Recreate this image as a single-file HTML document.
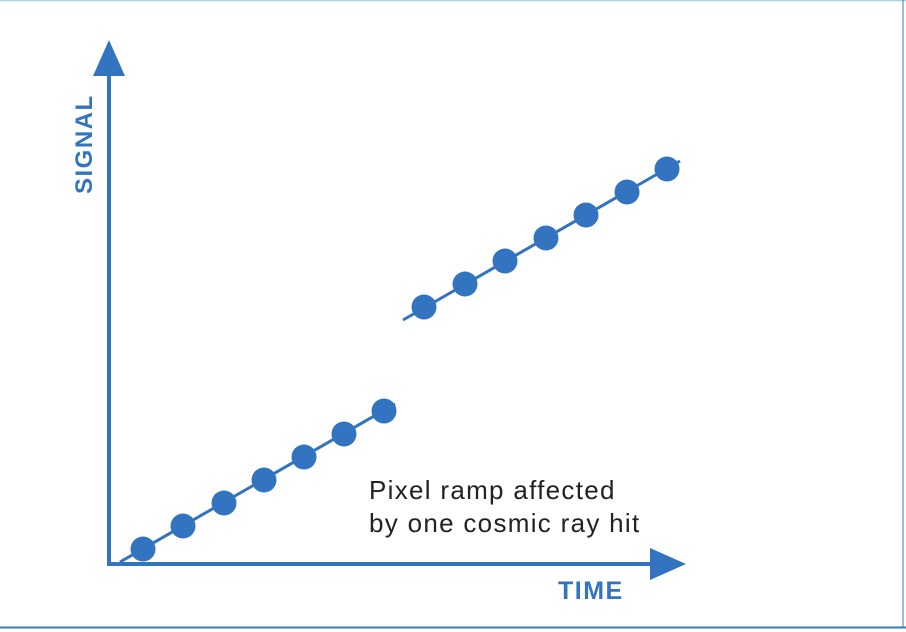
<!DOCTYPE html>
<html><head><style>
html,body{margin:0;padding:0;background:#fff;}
svg{display:block;}
</style></head><body>
<svg width="906" height="632" viewBox="0 0 906 632" xmlns="http://www.w3.org/2000/svg">
<rect x="0" y="0" width="906" height="632" fill="#fff"/>
<line x1="0" y1="0.5" x2="906" y2="0.5" stroke="#a9d0e8" stroke-width="1.5"/>
<line x1="903" y1="0" x2="903" y2="628" stroke="#3a7ab8" stroke-width="1"/>
<line x1="0" y1="627.5" x2="906" y2="627.5" stroke="#3a7ab8" stroke-width="2"/>
<g fill="#3274bf" stroke="#3274bf">
<line x1="109" y1="566" x2="109" y2="70" stroke-width="4"/>
<polygon points="109,40 93,76 125,76" stroke="none"/>
<line x1="107" y1="564" x2="660" y2="564" stroke-width="4"/>
<polygon points="686,564 650,548 650,580" stroke="none"/>
<line x1="120" y1="562" x2="395" y2="404" stroke-width="3"/>
<line x1="403" y1="320" x2="680" y2="161" stroke-width="3"/>
<g stroke="none">
<circle cx="143" cy="549" r="12.5"/><circle cx="183" cy="526" r="12.5"/><circle cx="224" cy="503" r="12.5"/><circle cx="264" cy="480" r="12.5"/><circle cx="304" cy="457" r="12.5"/><circle cx="344" cy="434" r="12.5"/><circle cx="384" cy="411" r="12.5"/>
<circle cx="424" cy="307" r="12.5"/><circle cx="465" cy="284" r="12.5"/><circle cx="505" cy="261" r="12.5"/><circle cx="546" cy="238" r="12.5"/><circle cx="586" cy="215" r="12.5"/><circle cx="627" cy="192" r="12.5"/><circle cx="667" cy="169" r="12.5"/>
</g>
</g>
<text x="558" y="599" font-family="Liberation Sans, sans-serif" font-weight="bold" font-size="25" letter-spacing="1.5" fill="#3274bf">TIME</text>
<text transform="translate(92,194) rotate(-90)" font-family="Liberation Sans, sans-serif" font-weight="bold" font-size="24" letter-spacing="1.5" fill="#3274bf">SIGNAL</text>
<text x="369" y="499" font-family="Liberation Sans, sans-serif" font-size="26" letter-spacing="1.3" fill="#222">Pixel ramp affected</text>
<text x="369" y="532" font-family="Liberation Sans, sans-serif" font-size="26" letter-spacing="1.3" fill="#222">by one cosmic ray hit</text>
</svg>
</body></html>
